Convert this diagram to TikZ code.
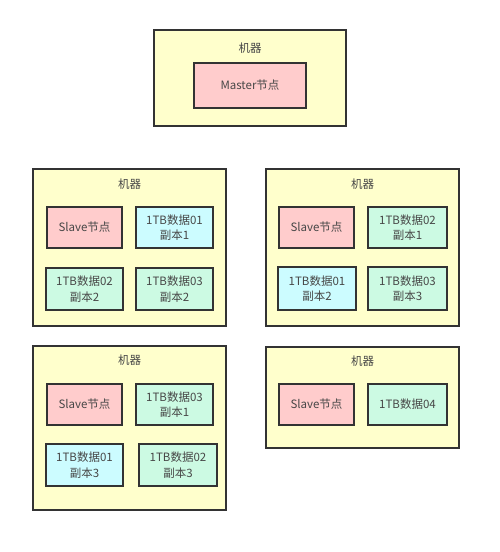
\documentclass[tikz,border=0pt]{standalone}
\usepackage{fontspec}
\setmainfont{Noto Sans CJK SC}
\begin{document}
\begin{tikzpicture}[x=1pt,y=-1pt,
  machine/.style={draw=black!80,line width=1.3pt},
  box/.style={draw=black!80,line width=1.3pt},
  slavec/.style={box},
  cyanc/.style={box},
  mintc/.style={box},
  lbl/.style={font=\fontsize{11.5}{15.5}\selectfont,text=black!72,align=center}]
\definecolor{mintfill}{HTML}{CCFAE3}
\definecolor{cyanfill}{HTML}{CCFCFF}
\definecolor{pinkfill}{HTML}{FFCCCC}
\definecolor{yelfill}{HTML}{FFFFCC}
\tikzset{machine/.append style={fill=yelfill},slavec/.append style={fill=pinkfill},
  cyanc/.append style={fill=cyanfill},mintc/.append style={fill=mintfill}}
\useasboundingbox (0,0) rectangle (500,552);
\fill[white] (0,0) rectangle (500,552);
% top machine
\draw[machine] (154,30) rectangle (346,126);
\node[lbl] (m1) at (250,48) {机器};
\draw[slavec] (194,63) rectangle (306,108);
\node[lbl] (master) at (250,85.5) {Master节点};
% machine 2
\draw[machine] (33,169) rectangle (226,326);
\node[lbl] (m2) at (129.5,184) {机器};
\draw[slavec] (47,207) rectangle (122,248);
\node[lbl] (s2) at (84.5,227.5) {Slave节点};
\draw[cyanc] (136,207) rectangle (213,248);
\node[lbl] (d2a) at (174.5,227.5) {1TB数据01\\副本1};
\draw[mintc] (46,268) rectangle (123,310);
\node[lbl] (d2b) at (84.5,289) {1TB数据02\\副本2};
\draw[mintc] (136,268) rectangle (213,310);
\node[lbl] (d2c) at (174.5,289) {1TB数据03\\副本2};
% machine 3
\draw[machine] (266,169) rectangle (459,326);
\node[lbl] (m3) at (362.5,184) {机器};
\draw[slavec] (279,207) rectangle (354,248);
\node[lbl] (s3) at (316.5,227.5) {Slave节点};
\draw[mintc] (368,207) rectangle (447,248);
\node[lbl] (d3a) at (407.5,227.5) {1TB数据02\\副本1};
\draw[cyanc] (278,267) rectangle (356,310);
\node[lbl] (d3b) at (317,288.5) {1TB数据01\\副本2};
\draw[mintc] (368,267) rectangle (447,310);
\node[lbl] (d3c) at (407.5,288.5) {1TB数据03\\副本3};
% machine 4
\draw[machine] (33,346) rectangle (226,510);
\node[lbl] (m4) at (129.5,360) {机器};
\draw[slavec] (47,384) rectangle (122,425);
\node[lbl] (s4) at (84.5,404.5) {Slave节点};
\draw[mintc] (136,384) rectangle (213,425);
\node[lbl] (d4a) at (174.5,404.5) {1TB数据03\\副本1};
\draw[cyanc] (46,444) rectangle (123,486);
\node[lbl] (d4b) at (84.5,465) {1TB数据01\\副本3};
\draw[mintc] (139,444) rectangle (217,486);
\node[lbl] (d4c) at (178,465) {1TB数据02\\副本3};
% machine 5
\draw[machine] (266,347) rectangle (459,448);
\node[lbl] (m5) at (362.5,361) {机器};
\draw[slavec] (279,384) rectangle (354,425);
\node[lbl] (s5) at (316.5,404.5) {Slave节点};
\draw[mintc] (368,384) rectangle (447,425);
\node[lbl] (d5a) at (407.5,404.5) {1TB数据04};
\end{tikzpicture}
\end{document}
